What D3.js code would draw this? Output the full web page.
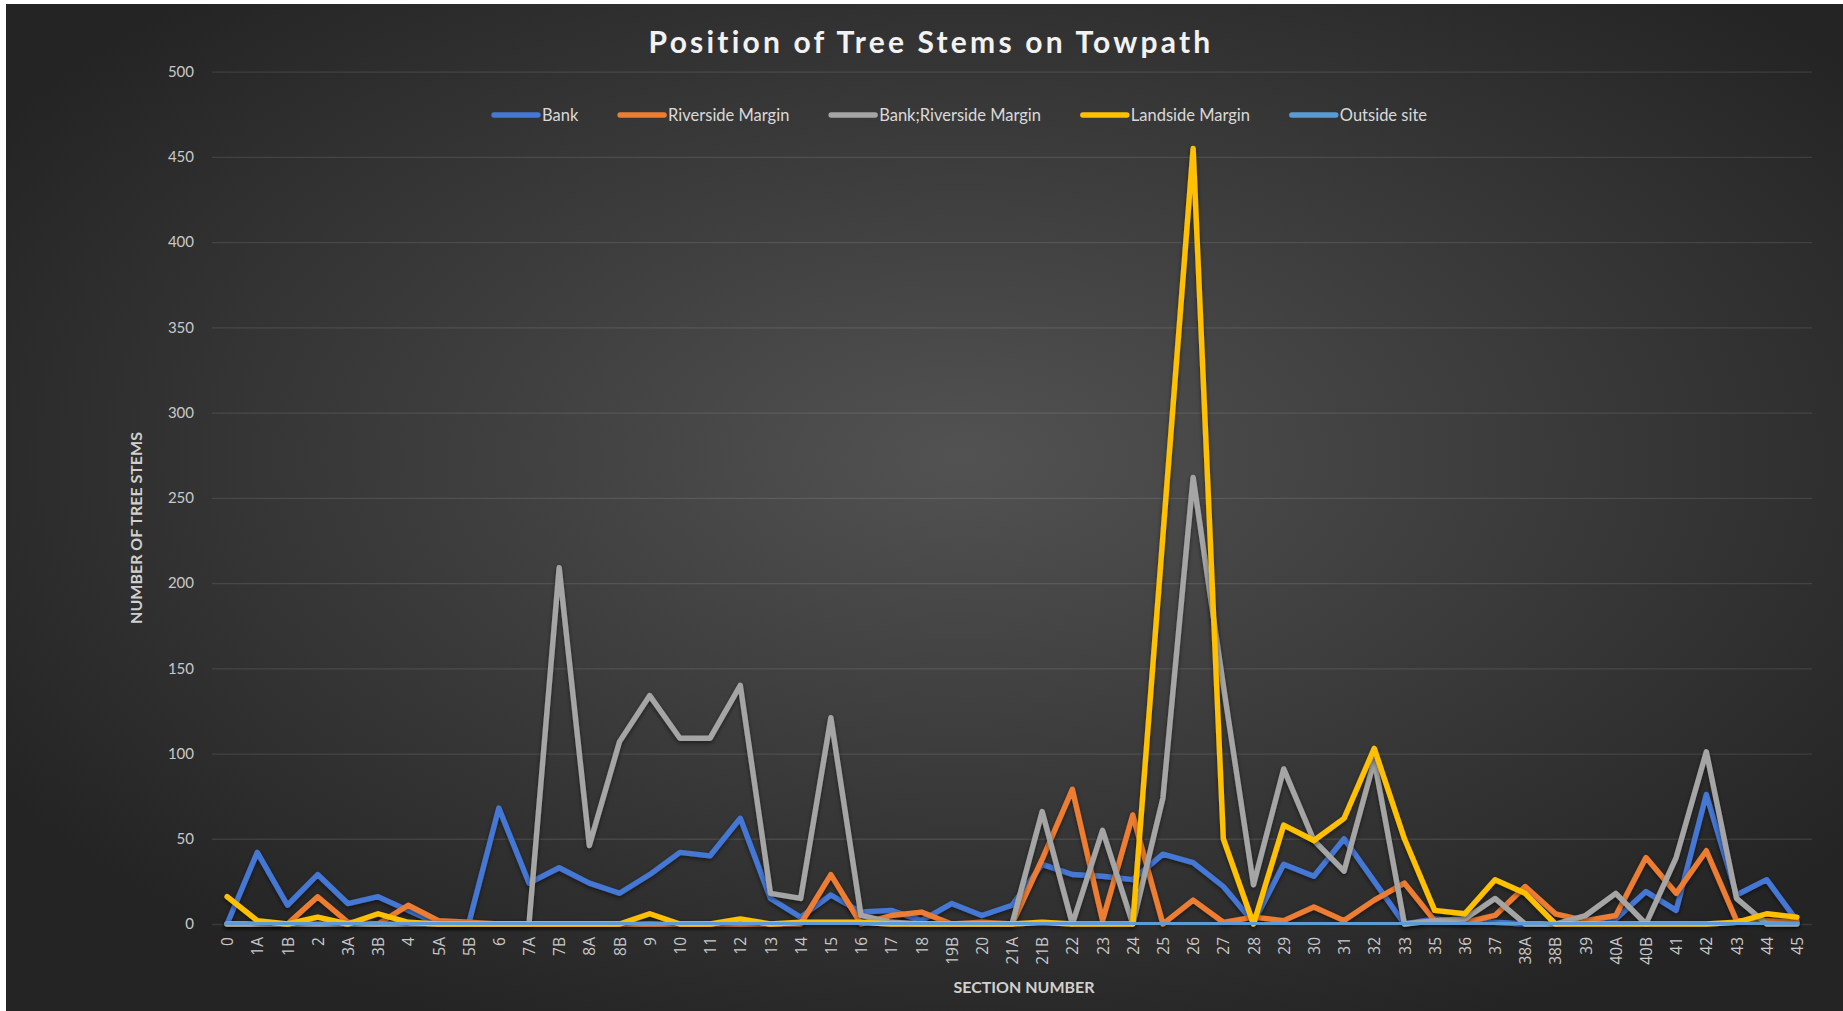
<!DOCTYPE html>
<html>
<head>
<meta charset="utf-8">
<script src="https://cdn.jsdelivr.net/npm/d3@7"></script>
<style>
  body { margin: 0; background: #ffffff; }
  svg { display: block; font-family: Lato, "Open Sans", sans-serif; }
</style>
</head>
<body>
<svg id="chart" width="1843" height="1011"></svg>
<script>
// section numbers along the towpath
var sections = ["0","1A","1B","2","3A","3B","4","5A","5B","6","7A","7B","8A","8B","9","10","11","12","13","14","15","16","17","18","19B","20","21A","21B","22","23","24","25","26","27","28","29","30","31","32","33","35","36","37","38A","38B","39","40A","40B","41","42","43","44","45"];

var bank =          [0,42,11,29,12,16,8,0,0,68,24,33,24,18,29,42,40,62,15,4,17,7,8,2,12,5,11,35,29,28,26,41,36,22,1,35,28,50,25,0,3,1,1,0,0,1,3,19,8,76,17,26,2];
var riverside =     [0,0,0,16,1,0,11,2,1,0,0,0,0,0,0,0,0,0,0,0,29,0,5,7,0,1,0,38,79,2,64,0,14,1,4,2,10,2,14,24,2,1,5,22,6,2,5,39,18,43,2,2,1];
var bankRiverside = [0,0,0,0,0,0,0,0,0,0,0,209,46,107,134,109,109,140,18,15,121,5,1,0,0,0,0,66,0,55,0,74,262,140,23,91,49,31,96,0,2,3,15,0,0,5,18,0,39,101,15,0,0];
var landside =      [16,2,0,4,0,6,1,0,0,0,0,0,0,0,6,0,0,3,0,1,1,1,0,0,0,0,0,1,0,0,0,228,455,50,0,58,49,62,103,50,8,6,26,18,0,0,0,0,0,0,1,6,4];
var outside =       [0,0,0,0,0,0,0,0,0,0,0,1,0,0,0,0,0,0,0,0,0,0,0,0,0,0,0,0,0,0,0,0,0,0,0,0,0,0,0,0,1,1,0,0,0,0,0,0,0,0,0,0,0];

var seriesNames = ["Bank","Riverside Margin","Bank;Riverside Margin","Landside Margin","Outside site"];
var seriesColors = ["#4577d4","#ed7d31","#a5a5a5","#ffc000","#5b9bd5"];
var yTicks = [0,50,100,150,200,250,300,350,400,450,500];

var allSeries = [bank, riverside, bankRiverside, landside, outside];

var svg = d3.select("#chart");
var defs = svg.append("defs");

// dark radial background like the excel style
var grad = defs.append("radialGradient").attr("id","bg")
  .attr("cx","52%").attr("cy","45%").attr("r","62%");
grad.append("stop").attr("offset","0%").attr("stop-color","#525252");
grad.append("stop").attr("offset","100%").attr("stop-color","#242424");

var shadow = defs.append("filter").attr("id","shadow")
  .attr("x","-5%").attr("y","-5%").attr("width","110%").attr("height","110%");
shadow.append("feDropShadow").attr("dx",0).attr("dy",2).attr("stdDeviation",2)
  .attr("flood-color","#000").attr("flood-opacity",0.5);

svg.append("rect").attr("x",6).attr("y",4).attr("width",1837).attr("height",1007)
  .attr("fill","url(#bg)");

// plot box (window.top is reserved, so use other names)
var plotLeft = 212, plotRight = 1812, plotTop = 71.7, plotBottom = 924;

var x = d3.scalePoint().domain(sections).range([plotLeft, plotRight]).padding(0.5);
var y = d3.scaleLinear().domain([0, 500]).range([plotBottom, plotTop]);

// gridlines + y labels
var yAxis = svg.append("g")
  .attr("transform", `translate(${plotLeft},0)`)
  .call(d3.axisLeft(y).tickValues(yTicks).tickSize(-(plotRight-plotLeft)).tickPadding(18));
yAxis.select(".domain").remove();
yAxis.selectAll("line").attr("stroke","#ffffff").attr("stroke-opacity",0.1).attr("stroke-width",1.3);
yAxis.selectAll("text").attr("fill","#c9c9c9").style("font-size","15px").style("font-family","Lato, sans-serif");

// x labels, rotated
var xAxis = svg.append("g")
  .attr("transform", `translate(0,${plotBottom})`)
  .call(d3.axisBottom(x).tickSize(0));
xAxis.select(".domain").remove();
xAxis.selectAll("text")
  .attr("transform","rotate(-90)")
  .attr("text-anchor","end")
  .attr("x",-13).attr("y",0).attr("dy","0.36em")
  .attr("fill","#c9c9c9").style("font-size","15.5px").style("font-family","'Open Sans', sans-serif");

// lines
var line = d3.line()
  .x(function(d, i){ return x(sections[i]); })
  .y(function(d){ return y(d); });

svg.append("g").selectAll("path")
  .data(allSeries)
  .enter()
  .append("path")
  .attr("d", line)
  .attr("fill","none")
  .attr("stroke", function(d, i){ return seriesColors[i]; })
  .attr("stroke-width", 5.4)
  .attr("stroke-linejoin","round")
  .attr("stroke-linecap","round")
  .attr("filter","url(#shadow)");

// title
svg.append("text")
  .attr("x", 931).attr("y", 53)
  .attr("text-anchor","middle")
  .attr("fill","#f2f2f2")
  .style("font-size","30px").style("font-weight","bold").style("letter-spacing","3.2px")
  .text("Position of Tree Stems on Towpath");

// axis titles
svg.append("text")
  .attr("transform","translate(142,528) rotate(-90)")
  .attr("text-anchor","middle")
  .attr("fill","#d0d0d0")
  .style("font-size","16px").style("font-weight","bold")
  .text("NUMBER OF TREE STEMS");

svg.append("text")
  .attr("x", 1024).attr("y", 993)
  .attr("text-anchor","middle")
  .attr("fill","#d0d0d0")
  .style("font-size","16px").style("font-weight","bold")
  .text("SECTION NUMBER");

// legend
var legend = svg.append("g");
var items = legend.selectAll("g").data(seriesNames).enter().append("g");
items.append("line")
  .attr("x1",0).attr("x2",44).attr("y1",0).attr("y2",0)
  .attr("stroke", function(d, i){ return seriesColors[i]; })
  .attr("stroke-width",5.4).attr("stroke-linecap","round");
items.append("text")
  .attr("x",48).attr("y",0).attr("dy","0.35em")
  .attr("fill","#d9d9d9").style("font-size","16.5px")
  .text(function(d){ return d; });

var widths = [];
items.each(function(){ widths.push(48 + this.querySelector("text").getComputedTextLength()); });
var legStart = 494, legEnd = 1427;
var gap = (legEnd - legStart - d3.sum(widths)) / (widths.length - 1);
var pos = legStart;
items.attr("transform", function(d, i){
  var t = `translate(${pos},115)`;
  pos += widths[i] + gap;
  return t;
});
</script>
</body>
</html>
